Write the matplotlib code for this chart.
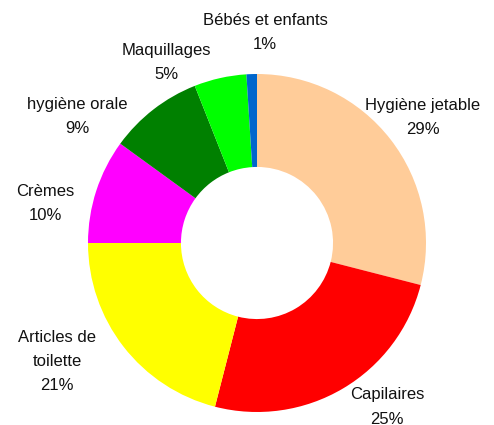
import matplotlib.pyplot as plt

# Category shares (%), clockwise from the top
categories = ['Hygiène jetable', 'Capilaires', 'Articles de\ntoilette', 'Crèmes',
              'hygiène orale', 'Maquillages', 'Bébés et enfants']
shares = [29, 25, 21, 10, 9, 5, 1]
colors = ['#FFCC99', '#FF0000', '#FFFF00', '#FF00FF', '#008000', '#00FF00', '#0066CC']

# label centres in pixels (x from left, y from top)
label_pos = [(423, 117), (387, 407), (57, 361), (45, 203), (77, 116), (166, 62), (265, 32)]

W, H = 494, 425
fig = plt.figure(figsize=(W / 100, H / 100), dpi=100)
ax = fig.add_axes([0, 0, 1, 1])

cx, cy, r = 257, H - 243, 169
ax.pie(shares, colors=colors, startangle=90, counterclock=False,
       center=(cx, cy), radius=r, frame=True,
       wedgeprops=dict(width=r * 0.55, linewidth=0))
ax.set_xlim(0, W)
ax.set_ylim(0, H)
ax.set_aspect('equal')
ax.axis('off')

for name, val, (x, y) in zip(categories, shares, label_pos):
    ax.text(x, H - y, f'{name}\n{val}%', ha='center', va='center',
            fontsize=12, family='Liberation Sans', linespacing=1.75, color='#111111')

fig.savefig('out.png', dpi=100)
